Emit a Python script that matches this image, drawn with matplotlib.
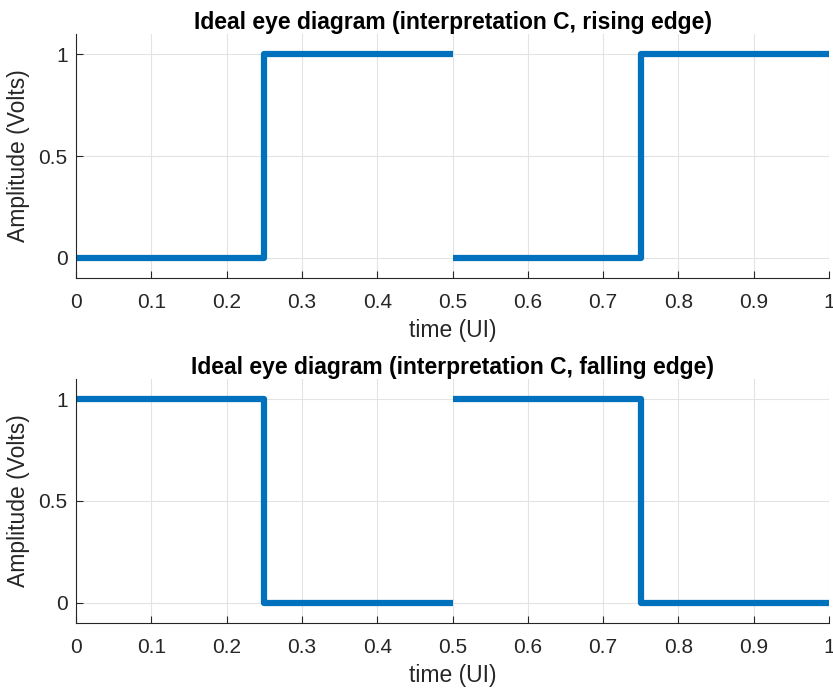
import numpy as np
import matplotlib.pyplot as plt

plt.rcParams['font.family'] = ['Liberation Sans', 'DejaVu Sans']

# Two unit intervals of an ideal eye, separated by a NaN break at 0.5 UI
t = [0, 0.25, 0.25, 0.5, np.nan, 0.5, 0.75, 0.75, 1.0]
rising = [0, 0, 1, 1, np.nan, 0, 0, 1, 1]
falling = [1, 1, 0, 0, np.nan, 1, 1, 0, 0]

titles = ['Ideal eye diagram (interpretation C, rising edge)',
          'Ideal eye diagram (interpretation C, falling edge)']
x_ticks = [0, 0.1, 0.2, 0.3, 0.4, 0.5, 0.6, 0.7, 0.8, 0.9, 1]
x_tick_labels = ['0', '0.1', '0.2', '0.3', '0.4', '0.5', '0.6', '0.7', '0.8', '0.9', '1']
y_ticks = [0, 0.5, 1]
y_tick_labels = ['0', '0.5', '1']

fig = plt.figure(figsize=(8.33, 6.9), dpi=100)
rects = [[76 / 833, 1 - 278 / 690, 753 / 833, 244 / 690],
         [76 / 833, 1 - 623 / 690, 753 / 833, 244 / 690]]

axis_color = '#262626'
for rect, y, title in zip(rects, [rising, falling], titles):
    ax = fig.add_axes(rect)
    ax.plot(t, y, color='#0072BD', linewidth=4.5,
            solid_joinstyle='round', solid_capstyle='butt')
    ax.set_xlim(0, 1)
    ax.set_ylim(-0.1, 1.1)
    ax.set_xticks(x_ticks, x_tick_labels)
    ax.set_yticks(y_ticks, y_tick_labels)
    ax.grid(True, color='#E3E3E3', linewidth=0.8)
    ax.set_axisbelow(True)
    for side in ['top', 'right']:
        ax.spines[side].set_visible(False)
    for side in ['left', 'bottom']:
        ax.spines[side].set_color(axis_color)
        ax.spines[side].set_linewidth(0.8)
    ax.tick_params(direction='in', length=5, width=0.8, color=axis_color,
                   labelcolor=axis_color, labelsize=15)
    ax.tick_params(axis='x', pad=10.5)
    ax.tick_params(axis='y', pad=6)
    ax.set_xlabel('time (UI)', fontsize=16.5, color=axis_color, labelpad=5.5)
    ax.set_ylabel('Amplitude (Volts)', fontsize=16.5, color=axis_color, labelpad=6)
    ax.set_title(title, fontsize=16.5, fontweight='bold', color='black', pad=3)

fig.savefig('out.png', dpi=100)
